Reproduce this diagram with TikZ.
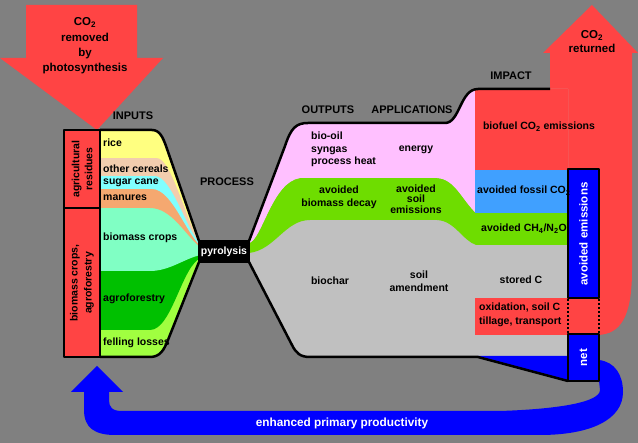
\documentclass[tikz,border=0pt]{standalone}
\usepackage{fontspec}
\setmainfont{Liberation Sans}
\definecolor{bggray}{HTML}{808080}
\definecolor{myred}{HTML}{FF4444}
\definecolor{rice}{HTML}{FFFF80}
\definecolor{cereal}{HTML}{F2CDAE}
\definecolor{sugar}{HTML}{80FFFF}
\definecolor{manure}{HTML}{F5A870}
\definecolor{biocrop}{HTML}{80FFC4}
\definecolor{agro}{HTML}{00C000}
\definecolor{felling}{HTML}{A0FF40}
\definecolor{mypink}{HTML}{FFC0FF}
\definecolor{outgreen}{HTML}{6EDD00}
\definecolor{ltgray}{HTML}{C0C0C0}
\definecolor{fossil}{HTML}{40A0FF}
\definecolor{dkblue}{HTML}{0000FF}
\begin{document}
\begin{tikzpicture}[x=1pt,y=-1pt,
  t/.style={font=\fontsize{10.5}{12.5}\selectfont\bfseries, inner sep=0pt, align=center, text=black},
  tl/.style={t, anchor=west, align=left},
  w/.style={t, text=white},
  hd/.style={font=\fontsize{11}{14}\selectfont\bfseries, inner sep=0pt, align=center, text=black},
  ol/.style={line width=2.5pt, line join=round, draw=black}]
\useasboundingbox (0,0) rectangle (638,443);
\fill[bggray] (0,0) rectangle (638,443);

% red down arrow
\fill[myred] (26,5) -- (137,5) -- (137,58) -- (163,58) -- (97,130) -- (0,58) -- (26,58) -- cycle;
% red up arrow and impact region
\fill[myred] (473,89) -- (550,89) -- (550,53) -- (543,53) -- (592,5) -- (638,53) -- (632,53) -- (632,270) .. controls (632,318) and (620,334) .. (598,335) -- (473,335) -- cycle;

% outputs gray region
\fill[ltgray] (249,241) -- (285,146) .. controls (291,128) and (296,123) .. (308,123) -- (445,123) .. controls (460,123) and (460,89) .. (478,89) -- (568,89) -- (568,356) -- (310,356) .. controls (300,357) and (296,353) .. (292,345) -- (249,262) -- cycle;
% green
\fill[outgreen] (249,243) .. controls (262,240) and (272,182) .. (300,178) -- (437,178) .. controls (455,179) and (462,200) .. (476,213) -- (568,213) -- (568,245) -- (476,245) .. controls (462,240) and (455,221) .. (437,220) -- (310,220) .. controls (285,220) and (275,250) .. (249,253) -- cycle;
% pink
\fill[mypink] (249,241) -- (285,146) .. controls (291,128) and (296,123) .. (308,123) -- (445,123) .. controls (460,123) and (460,89) .. (478,89) -- (478,213) -- (476,213) .. controls (462,200) and (455,179) .. (437,178) -- (300,178) .. controls (272,182) and (262,240) .. (249,243) -- cycle;
% impact rows
\fill[myred] (475,89) rectangle (568,170);
\fill[fossil] (475,170) rectangle (568,213);
\fill[myred] (475,298) rectangle (600,335);
% blue wedge
\fill[dkblue] (478,356) -- (568,356) -- (568,381) -- cycle;

% blue loop
\fill[dkblue] (599,360) .. controls (615,362) and (623,375) .. (623,392) .. controls (623,420) and (590,435) .. (540,435) -- (115,435) .. controls (95,435) and (84,428) .. (84,410) -- (84,392) -- (71,392) -- (97,366) -- (123,392) -- (109,392) -- (109,400) .. controls (109,407) and (112,411) .. (122,411) -- (500,411) .. controls (560,409) and (600,402) .. (600,390) -- (599,381) -- cycle;

% outputs outline
\draw[ol] (249,241) -- (285,146) .. controls (291,128) and (296,123) .. (308,123) -- (445,123) .. controls (460,123) and (460,89) .. (478,89) -- (550,89);
\draw[ol] (249,262) -- (292,345) .. controls (296,353) and (300,357) .. (310,357) -- (478,357) -- (568,381);

% avoided emissions and net boxes
\filldraw[ol, fill=dkblue] (568,169) rectangle (599,298);
\filldraw[ol, fill=dkblue] (568,334) rectangle (599,381);
\draw[line width=2.5pt, dash pattern=on 2pt off 2pt] (568,299) -- (568,334);
\draw[line width=2.5pt, dash pattern=on 2pt off 2pt] (599,299) -- (599,334);

% inputs bands
\begin{scope}
\clip (100,130) -- (152,130) .. controls (160,130) and (163,138) .. (166,146) -- (199,241) -- (199,262) -- (168,340) .. controls (164,350) and (160,357) .. (150,357) -- (100,357) -- cycle;
\fill[felling] (90,120) rectangle (210,370);
\fill[agro] (90,120) -- (90,330) -- (150,330) .. controls (172,330) and (182,265) .. (201,258) -- (210,258) -- (210,120) -- cycle;
\fill[biocrop] (90,120) -- (90,271) -- (150,271) .. controls (170,271) and (185,258) .. (201,255) -- (210,255) -- (210,120) -- cycle;
\fill[manure] (90,120) -- (90,208) -- (150,208) .. controls (172,208) and (185,235) .. (201,248) -- (210,248) -- (210,120) -- cycle;
\fill[sugar] (90,120) -- (90,189) -- (152,189) .. controls (172,189) and (186,234) .. (201,246) -- (210,246) -- (210,120) -- cycle;
\fill[cereal] (90,120) -- (90,176) -- (155,176) .. controls (172,176) and (187,232) .. (201,244) -- (210,244) -- (210,120) -- cycle;
\fill[rice] (90,120) -- (90,158) -- (157,158) .. controls (172,158) and (188,228) .. (201,243) -- (210,243) -- (210,120) -- cycle;
\end{scope}
\draw[ol] (100,130) -- (152,130) .. controls (160,130) and (163,138) .. (166,146) -- (199,241);
\draw[ol] (199,262) -- (168,340) .. controls (164,350) and (160,357) .. (150,357) -- (100,357);

% left label boxes
\filldraw[ol, fill=myred] (64,130) rectangle (100,357);
\draw[ol] (64,208) -- (100,208);

% pyrolysis
\fill[black] (198,240) rectangle (250,263);
\node[w] (pyro) at (224,251.5) {pyrolysis};

% texts
\node[hd, font=\fontsize{11.5}{15.3}\selectfont\bfseries] (co2rem) at (85,46) {CO\textsubscript{2}\\removed\\by\\photosynthesis};
\node[hd, font=\fontsize{11.5}{14}\selectfont\bfseries] (co2ret) at (592,42) {CO\textsubscript{2}\\returned};
\node[hd] (inputs) at (133,116) {INPUTS};
\node[hd] (process) at (227,182) {PROCESS};
\node[hd] (outputs) at (328,110) {OUTPUTS};
\node[hd] (applic) at (412,110) {APPLICATIONS};
\node[hd] (impact) at (511,76) {IMPACT};

\node[t, rotate=90, font=\fontsize{10.5}{13}\selectfont\bfseries] (agres) at (82,169) {agricultural\\residues};
\node[t, rotate=90, font=\fontsize{10.5}{14}\selectfont\bfseries] (biocr) at (82,283) {biomass crops,\\agroforestry};

\node[tl] (trice) at (103,143) {rice};
\node[tl] (tcer) at (103,169) {other cereals};
\node[tl] (tsug) at (103,182.5) {sugar cane};
\node[tl] (tman) at (103,198) {manures};
\node[tl] (tbio) at (103,238) {biomass crops};
\node[tl] (tagro) at (103,299) {agroforestry};
\node[tl] (tfell) at (103,343) {felling losses};

\node[tl] (tbiooil) at (311,149.5) {bio-oil\\syngas\\process heat};
\node[t] (tenergy) at (416,150) {energy};
\node[t, font=\fontsize{10.5}{13}\selectfont\bfseries] (tavbio) at (339,197) {avoided\\biomass decay};
\node[t, font=\fontsize{10.5}{10.3}\selectfont\bfseries] (tavsoil) at (416,199) {avoided\\soil\\emissions};
\node[t] (tbiochar) at (330,281) {biochar};
\node[t, font=\fontsize{10.5}{13}\selectfont\bfseries] (tamend) at (419,281.5) {soil\\amendment};

\node[t] (tbiofuel) at (539,127) {biofuel CO\textsubscript{2} emissions};
\node[tl] (tfossil) at (477,191) {avoided fossil CO\textsubscript{2}};
\node[tl] (tch4) at (481,229) {avoided CH\textsubscript{4}/N\textsubscript{2}O};
\node[t] (tstored) at (521,280) {stored C};
\node[tl, font=\fontsize{10.5}{14}\selectfont\bfseries] (toxid) at (479,315) {oxidation, soil C\\tillage, transport};

\node[w, rotate=90, font=\fontsize{11.5}{13}\selectfont\bfseries] (tavem) at (583.5,234) {avoided emissions};
\node[w, rotate=90, font=\fontsize{11.5}{13}\selectfont\bfseries] (tnet) at (583.5,357.5) {net};
\node[w, font=\fontsize{11.8}{14}\selectfont\bfseries] (tenh) at (342,423) {enhanced primary productivity};
\end{tikzpicture}
\end{document}
